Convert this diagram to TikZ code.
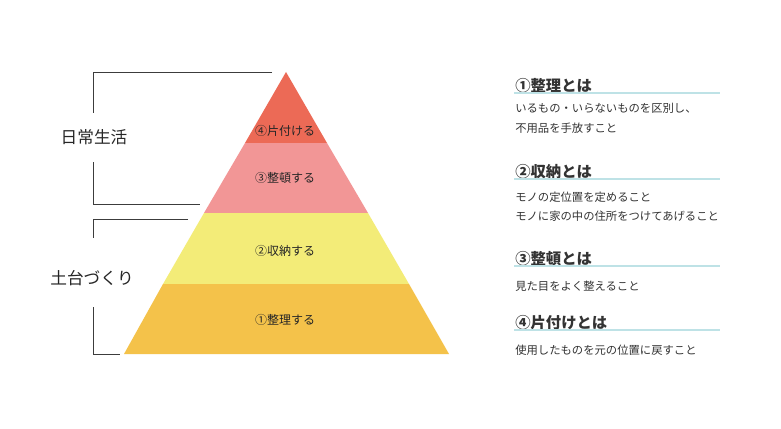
\documentclass[tikz,border=0pt]{standalone}
\usepackage{fontspec}
\setmainfont{Noto Sans CJK JP}
\definecolor{layerFour}{RGB}{236,106,86}
\definecolor{layerThree}{RGB}{242,150,150}
\definecolor{layerTwo}{RGB}{243,236,120}
\definecolor{layerOne}{RGB}{244,194,74}
\definecolor{ruleCyan}{RGB}{190,226,230}
\definecolor{bracketGray}{RGB}{60,60,60}
\tikzset{
  layertext/.style={inner sep=0.75pt,font=\fontsize{9}{10}\selectfont,text=black!85},
  sidetext/.style={inner sep=0.75pt,font=\fontsize{12.5}{14}\selectfont,text=black!85},
  headtext/.style={anchor=base west,inner sep=0.75pt,font=\bfseries\fontsize{11.5}{13}\selectfont,text=black!80},
  bodytext/.style={anchor=base west,inner sep=0.75pt,font=\fontsize{8.5}{9}\selectfont,text=black!80},
  bracket/.style={draw=bracketGray,line width=0.6pt},
  headrule/.style={draw=ruleCyan,line width=1.2pt}
}
\begin{document}
\begin{tikzpicture}[x=0.75pt,y=0.75pt,yscale=-1,xscale=1]
\useasboundingbox (0,0) rectangle (781,428);
\fill[white] (0,0) rectangle (781,428);

%Shape: Pyramid layers
\fill [layerFour] (286,72) -- (327,143) -- (245,143) -- cycle ;
\fill [layerThree] (245,143) -- (327,143) -- (368,213) -- (204,213) -- cycle ;
\fill [layerTwo] (204,213) -- (368,213) -- (409,284) -- (163,284) -- cycle ;
\fill [layerOne] (163,284) -- (409,284) -- (449,354) -- (124,354) -- cycle ;

% Text Node
\node (four) [layertext] at (285,131) {④片付ける};
% Text Node
\node (three) [layertext] at (285,178) {③整頓する};
% Text Node
\node (two) [layertext] at (285,251) {②収納する};
% Text Node
\node (one) [layertext] at (285,320) {①整理する};

% Text Node
\node (daily) [sidetext] at (94,137) {日常生活};
% Text Node
\node (base) [sidetext] at (92,278) {土台づくり};

%Straight Lines: upper bracket
\coordinate (dTop) at (272,72);
\coordinate (dBot) at (200,204);
\draw [bracket] (dTop) -- (93,72) -- (93,113) ;
\draw [bracket] (93,162) -- (93,204) -- (dBot) ;
%Straight Lines: lower bracket
\coordinate (bTop) at (188,219);
\coordinate (bBot) at (120,354);
\draw [bracket] (bTop) -- (93,219) -- (93,238) ;
\draw [bracket] (93,307) -- (93,354) -- (bBot) ;

% Text Node
\node (h1) [headtext] at (514,91) {①整理とは};
\draw [headrule] (514,93) -- (720,93) ;
\node (b1a) [bodytext] at (514,112) {いるもの・いらないものを区別し、};
\node (b1b) [bodytext] at (514,132) {不用品を手放すこと};
% Text Node
\node (h2) [headtext] at (514,177) {②収納とは};
\draw [headrule] (514,179) -- (720,179) ;
\node (b2a) [bodytext] at (514,201) {モノの定位置を定めること};
\node (b2b) [bodytext] at (514,220) {モノに家の中の住所をつけてあげること};
% Text Node
\node (h3) [headtext] at (514,264) {③整頓とは};
\draw [headrule] (514,266) -- (720,266) ;
\node (b3a) [bodytext] at (514,290) {見た目をよく整えること};
% Text Node
\node (h4) [headtext] at (514,328) {④片付けとは};
\draw [headrule] (514,330) -- (720,330) ;
\node (b4a) [bodytext] at (514,354) {使用したものを元の位置に戻すこと};

\end{tikzpicture}
\end{document}
